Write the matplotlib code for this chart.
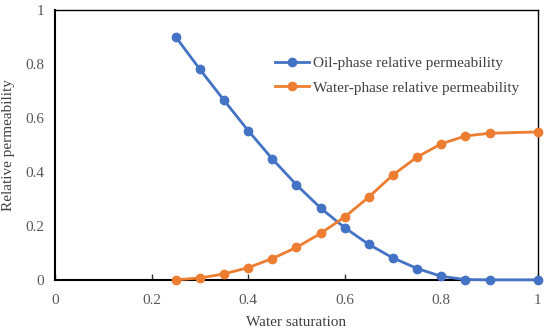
import matplotlib
matplotlib.use("Agg")
import matplotlib.pyplot as plt

plt.rcParams['font.family'] = ['Liberation Serif', 'DejaVu Serif']

sw = [0.25, 0.30, 0.35, 0.40, 0.45, 0.50, 0.55, 0.60, 0.65, 0.70, 0.75, 0.80, 0.85, 0.90, 1.00]
kro = [0.90, 0.78, 0.665, 0.553, 0.448, 0.352, 0.266, 0.193, 0.131, 0.081, 0.042, 0.013, 0.001, 0.0, 0.0]
krw = [0.0, 0.007, 0.022, 0.045, 0.079, 0.12, 0.172, 0.233, 0.307, 0.389, 0.455, 0.504, 0.533, 0.543, 0.548]
xticks = [0, 0.2, 0.4, 0.6, 0.8, 1]
yticks = [0, 0.2, 0.4, 0.6, 0.8, 1]

fig = plt.figure(figsize=(5.5, 3.3), dpi=100)
ax = fig.add_axes([0.1, 0.152, 0.878, 0.818])
ax.plot(sw, kro, color='#4472C4', lw=2, marker='o', ms=6, label='Oil-phase relative permeability', clip_on=False, zorder=3)
ax.plot(sw, krw, color='#ED7D31', lw=2, marker='o', ms=6, label='Water-phase relative permeability', clip_on=False, zorder=3)
ax.set_xlim(0, 1)
ax.set_ylim(0, 1)
ax.set_xticks(xticks)
ax.set_xticklabels(['0', '0.2', '0.4', '0.6', '0.8', '1'])
ax.set_yticks(yticks)
ax.set_yticklabels(['0', '0.2', '0.4', '0.6', '0.8', '1'])
ax.tick_params(axis='x', direction='in', length=4, width=1, labelsize=11, colors='#333333', pad=10, labelcolor='#595959')
ax.tick_params(axis='y', length=0, labelsize=11, labelcolor='#595959', pad=8)
for s in ['top', 'right']:
    ax.spines[s].set_linewidth(1)
    ax.spines[s].set_color('black')
ax.spines['bottom'].set_linewidth(1.5)
ax.spines['left'].set_linewidth(1.5)
ax.set_xlabel('Water saturation', fontsize=11, color='#404040', labelpad=7)
ax.set_ylabel('Relative permeability', fontsize=11, color='#404040', labelpad=7)
ax.legend(loc='upper left', bbox_to_anchor=(0.427, 0.878), frameon=False, fontsize=11, handlelength=2.2, handletextpad=0.3, labelspacing=0.7, labelcolor='#404040')
fig.savefig('out.png', dpi=100)
